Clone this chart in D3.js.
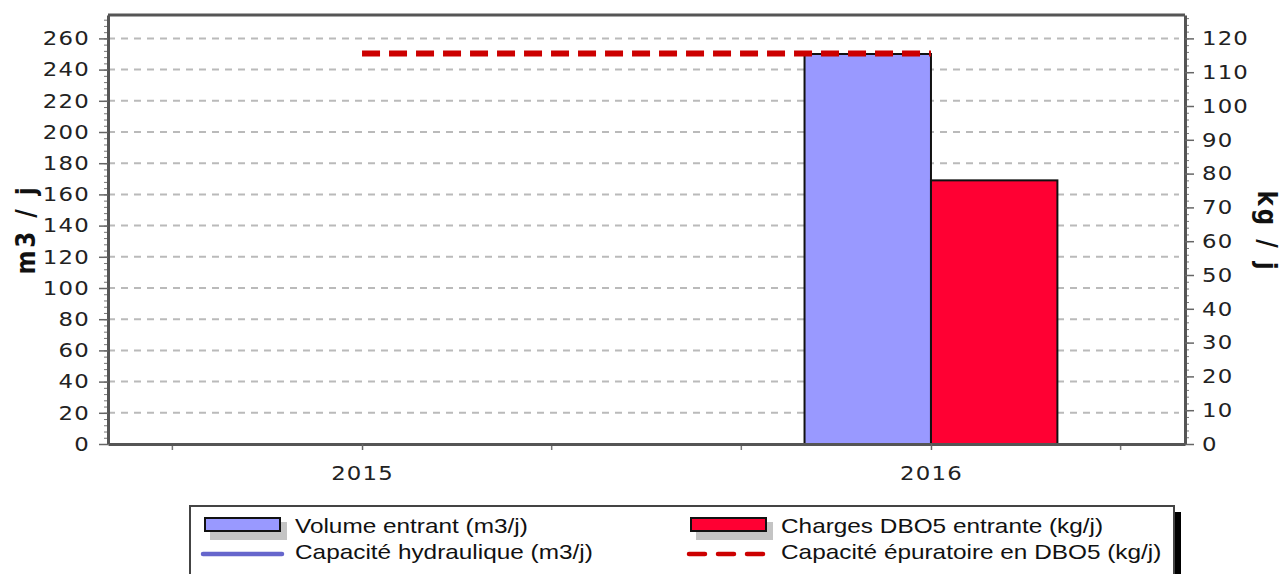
<!DOCTYPE html>
<html>
<head>
<meta charset="utf-8">
<script src="https://cdn.jsdelivr.net/npm/d3@7"></script>
<style>
body { margin: 0; background: #fff; }
svg { display: block; }
</style>
</head>
<body>
<div class="container"></div>
<script>
// data
var years = ["2015", "2016"];
var volumeEntrant = [null, 250];          // m3/j, left axis
var chargesDBO5 = [null, 78];             // kg/j, right axis
var capaciteHydraulique = [null, null];   // m3/j, no value drawn
var capaciteDBO5 = [115.5, 115.5];        // kg/j, right axis
var leftTicks = d3.range(0, 261, 20);
var rightTicks = d3.range(0, 121, 10);
var legendLabels = ["Volume entrant (m3/j)", "Charges DBO5 entrante (kg/j)",
                    "Capacité hydraulique (m3/j)", "Capacité épuratoire en DBO5 (kg/j)"];

var W = 1282, H = 574;
var SX = 1.17; // picture is stretched sideways, text follows that
var plot = {left: 108, right: 1185, top: 15, bottom: 444};

var svg = d3.select(".container").append("svg")
  .attr("width", W).attr("height", H);

var x = d3.scalePoint().domain(years).range([plot.left, plot.right]).padding(0.4465);
var step = x.step();
var yLeft = d3.scaleLinear().domain([0, 275]).range([plot.bottom, plot.top]);
var yRight = d3.scaleLinear().domain([0, 275 * 120 / 260]).range([plot.bottom, plot.top]);

var groupW = step * 4 / 9;
var sub = d3.scaleBand().domain(["vol", "dbo"]).range([-groupW / 2, groupW / 2]);

// grid
svg.append("g").selectAll("line")
  .data(leftTicks.filter(function(d) { return d > 0; }))
  .join("line")
  .attr("x1", plot.left).attr("x2", plot.right - 6)
  .attr("y1", function(d) { return yLeft(d); })
  .attr("y2", function(d) { return yLeft(d); })
  .attr("stroke", "#bababa").attr("stroke-width", 2)
  .attr("stroke-dasharray", "7,6");

// bars
var bars = svg.append("g").attr("stroke", "#111").attr("stroke-width", 2);
bars.selectAll("rect.vol")
  .data(years.map(function(y, i) { return {year: y, v: volumeEntrant[i]}; }).filter(function(d) { return d.v != null; }))
  .join("rect").attr("class", "vol")
  .attr("x", function(d) { return x(d.year) + sub("vol"); })
  .attr("width", sub.bandwidth())
  .attr("y", function(d) { return yLeft(d.v); })
  .attr("height", function(d) { return plot.bottom - yLeft(d.v); })
  .attr("fill", "#9999ff");
bars.selectAll("rect.dbo")
  .data(years.map(function(y, i) { return {year: y, v: chargesDBO5[i]}; }).filter(function(d) { return d.v != null; }))
  .join("rect").attr("class", "dbo")
  .attr("x", function(d) { return x(d.year) + sub("dbo"); })
  .attr("width", sub.bandwidth())
  .attr("y", function(d) { return yRight(d.v); })
  .attr("height", function(d) { return plot.bottom - yRight(d.v); })
  .attr("fill", "#ff0033");

// capacity lines
var hydroLine = d3.line().defined(function(d) { return d != null; })
  .x(function(d, i) { return x(years[i]); }).y(function(d) { return yLeft(d); });
svg.append("path").attr("d", hydroLine(capaciteHydraulique))
  .attr("fill", "none").attr("stroke", "#6666cc").attr("stroke-width", 4);

var dboLine = d3.line()
  .x(function(d, i) { return x(years[i]); }).y(function(d) { return yRight(d); });
svg.append("path").attr("d", dboLine(capaciteDBO5))
  .attr("fill", "none").attr("stroke", "#cc0000").attr("stroke-width", 6)
  .attr("stroke-dasharray", "18,9");

// frame top
svg.append("line").attr("x1", plot.left).attr("x2", plot.right)
  .attr("y1", plot.top).attr("y2", plot.top)
  .attr("stroke", "#555").attr("stroke-width", 3);

function styleAxis(g) {
  g.select(".domain").attr("stroke", "#555").attr("stroke-width", 3);
  g.selectAll(".tick line").attr("stroke", "#666").attr("stroke-width", 1.5);
  g.selectAll("text")
    .attr("font-family", "DejaVu Sans").attr("font-size", 19.5)
    .attr("fill", "#222").attr("letter-spacing", 1)
    .attr("transform", "scale(" + SX + ",1)");
}

// left axis
svg.append("g").attr("transform", "translate(" + plot.left + ",0)")
  .call(d3.axisLeft(yLeft).tickValues(d3.range(0, 275, 4)).tickSize(4).tickSizeOuter(0).tickFormat(""))
  .call(function(g) { g.select(".domain").remove(); g.selectAll("line").attr("stroke", "#777"); });
svg.append("g").attr("transform", "translate(" + plot.left + ",0)")
  .call(d3.axisLeft(yLeft).tickValues(leftTicks).tickSize(9).tickSizeOuter(0).tickPadding(6.5))
  .call(styleAxis);

// right axis
svg.append("g").attr("transform", "translate(" + plot.right + ",0)")
  .call(d3.axisRight(yRight).tickValues(d3.range(0, 127, 2)).tickSize(4).tickSizeOuter(0).tickFormat(""))
  .call(function(g) { g.select(".domain").remove(); g.selectAll("line").attr("stroke", "#777"); });
svg.append("g").attr("transform", "translate(" + plot.right + ",0)")
  .call(d3.axisRight(yRight).tickValues(rightTicks).tickSize(9).tickSizeOuter(0).tickPadding(5.5))
  .call(styleAxis);

// bottom axis
var minorX = [];
years.forEach(function(y) { minorX.push(x(y) - step / 3, x(y) + step / 3); });
svg.append("g").selectAll("line").data(minorX).join("line")
  .attr("x1", function(d) { return d; }).attr("x2", function(d) { return d; })
  .attr("y1", plot.bottom).attr("y2", plot.bottom + 6)
  .attr("stroke", "#777").attr("stroke-width", 1.5);
svg.append("g").attr("transform", "translate(0," + plot.bottom + ")")
  .call(d3.axisBottom(x).tickSize(6).tickSizeOuter(0).tickPadding(16))
  .call(styleAxis);

// axis titles
svg.append("text").text("m3 / j")
  .attr("transform", "translate(26," + ((plot.top + plot.bottom) / 2) + ") scale(" + SX + ",1) rotate(-90)")
  .attr("text-anchor", "middle").attr("dy", "0.35em")
  .attr("font-family", "DejaVu Sans").attr("font-weight", "bold")
  .attr("font-size", 23).attr("letter-spacing", 3).attr("fill", "#111");
svg.append("text").text("kg / j")
  .attr("transform", "translate(1267," + ((plot.top + plot.bottom) / 2 + 2) + ") scale(" + SX + ",1) rotate(90)")
  .attr("text-anchor", "middle").attr("dy", "0.35em")
  .attr("font-family", "DejaVu Sans").attr("font-weight", "bold")
  .attr("font-size", 23).attr("letter-spacing", 3).attr("fill", "#111");

// legend
var lg = svg.append("g");
lg.append("rect").attr("x", 1174).attr("y", 512).attr("width", 7).attr("height", 100).attr("fill", "#000");
lg.append("rect").attr("x", 190).attr("y", 506).attr("width", 984).attr("height", 100)
  .attr("fill", "#fff").attr("stroke", "#444").attr("stroke-width", 2);

var legendItems = [
  {label: legendLabels[0], type: "bar", color: "#9999ff", col: 0, row: 0},
  {label: legendLabels[1], type: "bar", color: "#ff0033", col: 1, row: 0},
  {label: legendLabels[2], type: "line", color: "#6666cc", col: 0, row: 1},
  {label: legendLabels[3], type: "dash", color: "#cc0000", col: 1, row: 1}
];
var colX = [205, 691], rowY = [518, 544];

legendItems.forEach(function(d) {
  var gx = colX[d.col], gy = rowY[d.row];
  if (d.type === "bar") {
    lg.append("rect").attr("x", gx + 5).attr("y", gy + 4).attr("width", 77).attr("height", 18).attr("fill", "#c4c4c4");
    lg.append("rect").attr("x", gx).attr("y", gy).attr("width", 75).attr("height", 13)
      .attr("fill", d.color).attr("stroke", "#111").attr("stroke-width", 2);
  } else {
    lg.append("line").attr("x1", gx - 2).attr("x2", gx + 77).attr("y1", gy + 10).attr("y2", gy + 10)
      .attr("stroke", d.color).attr("stroke-width", 4.5).attr("stroke-linecap", "round")
      .attr("stroke-dasharray", d.type === "dash" ? "16,13" : null);
  }
  lg.append("text").text(d.label)
    .attr("transform", "translate(" + (gx + 90) + "," + (gy + 15) + ") scale(1.16,1)")
    .attr("font-family", "Liberation Sans").attr("font-size", 21).attr("fill", "#111");
});
</script>
</body>
</html>
